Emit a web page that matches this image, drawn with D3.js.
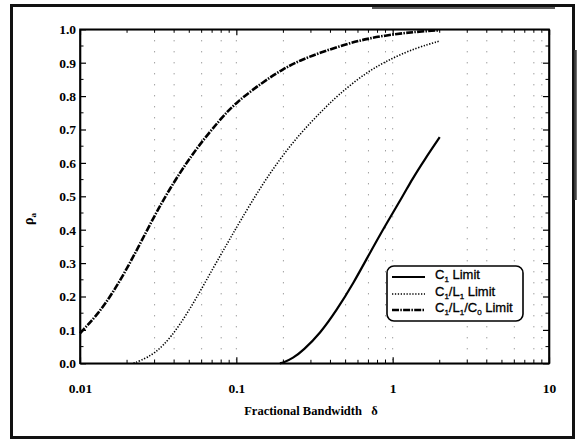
<!DOCTYPE html>
<html>
<head>
<meta charset="utf-8">
<script src="https://cdn.jsdelivr.net/npm/d3@7"></script>
<style>
  body { margin: 0; background: #fff; }
  svg { display: block; }
</style>
</head>
<body>
<svg id="chart" width="577" height="441"></svg>
<script>
// ---- data ----
const bandwidthC1L1C0 = [0.01, 0.0128, 0.0163, 0.0209, 0.0268, 0.0335, 0.0437, 0.0559, 0.0786, 0.1, 0.148, 0.2, 0.256, 0.343, 0.5, 0.686, 1.0, 1.43, 2.0];
const rhoC1L1C0       = [0.09, 0.143, 0.212, 0.3, 0.398, 0.484, 0.572, 0.645, 0.73, 0.782, 0.842, 0.882, 0.907, 0.93, 0.955, 0.972, 0.985, 0.993, 0.997];

const bandwidthC1L1 = [0.022, 0.027, 0.034, 0.0437, 0.056, 0.071, 0.0886, 0.1056, 0.1418, 0.19, 0.256, 0.343, 0.446, 0.68, 1.0, 1.43, 2.0];
const rhoC1L1       = [0.0, 0.016, 0.05, 0.115, 0.198, 0.285, 0.363, 0.425, 0.525, 0.612, 0.688, 0.75, 0.803, 0.872, 0.915, 0.945, 0.965];

const bandwidthC1 = [0.19, 0.2, 0.23, 0.268, 0.343, 0.438, 0.56, 0.71, 0.91, 1.17, 1.32, 1.6, 2.0];
const rhoC1       = [0.0, 0.002, 0.015, 0.039, 0.089, 0.159, 0.239, 0.328, 0.418, 0.503, 0.548, 0.61, 0.677];

const xMajorTicks = [0.01, 0.1, 1, 10];
const xTickLabels = ["0.01", "0.1", "1", "10"];
const yMajorTicks = [0, 0.1, 0.2, 0.3, 0.4, 0.5, 0.6, 0.7, 0.8, 0.9, 1.0];
const yTickLabels = ["0.0", "0.1", "0.2", "0.3", "0.4", "0.5", "0.6", "0.7", "0.8", "0.9", "1.0"];
const gridX = [0.03, 0.04, 0.06, 0.08, 0.1, 0.2, 0.5, 0.7, 0.9, 1, 3, 4, 6, 8, 9];

const legendLabels = [
  [["C", ""], ["1", "sub"], [" Limit", ""]],
  [["C", ""], ["1", "sub"], ["/L", ""], ["1", "sub"], [" Limit", ""]],
  [["C", ""], ["1", "sub"], ["/L", ""], ["1", "sub"], ["/C", ""], ["0", "sub"], [" Limit", ""]]
];

// ---- layout ----
const svg = d3.select("#chart");
const L = 80, R = 549, T = 29.3, B = 363.3;
const x = d3.scaleLog().domain([0.01, 10]).range([L, R]);
const y = d3.scaleLinear().domain([0, 1]).range([B, T]);

// outer frame
svg.append("rect").attr("x", 11.5).attr("y", 5.5).attr("width", 562).attr("height", 432)
  .attr("fill", "none").attr("stroke", "#111").attr("stroke-width", 3);
svg.append("line").attr("x1", 372).attr("x2", 555).attr("y1", 8).attr("y2", 8)
  .attr("stroke", "#222").attr("stroke-width", 1.5);
svg.append("line").attr("x1", 575.5).attr("x2", 575.5).attr("y1", 50).attr("y2", 200)
  .attr("stroke", "#444").attr("stroke-width", 2.5);

// grid
svg.append("g").selectAll("line").data(gridX).join("line")
  .attr("x1", d => x(d)).attr("x2", d => x(d)).attr("y1", T).attr("y2", B)
  .attr("stroke", "#777").attr("stroke-width", 1).attr("stroke-dasharray", "1,10");

// minor log ticks
const minorX = [];
[0.01, 0.1, 1].forEach(dec => { for (let k = 2; k <= 9; k++) minorX.push(dec * k); });
const minorY = d3.range(0.05, 1, 0.1);

const tickFont = "'Liberation Serif', 'Times New Roman', serif";

// bottom axis
const gB = svg.append("g").attr("transform", `translate(0,${B})`)
  .call(d3.axisBottom(x).tickValues(xMajorTicks).tickFormat((d, i) => xTickLabels[i])
    .tickSizeInner(-6).tickSizeOuter(0).tickPadding(20));
gB.selectAll("line.minor").data(minorX).join("line").attr("class", "minor")
  .attr("x1", d => x(d)).attr("x2", d => x(d)).attr("y1", 0).attr("y2", -3.5).attr("stroke", "#000");
// top axis
const gT = svg.append("g").attr("transform", `translate(0,${T})`)
  .call(d3.axisTop(x).tickValues(xMajorTicks).tickFormat("").tickSizeInner(-6).tickSizeOuter(0));
gT.selectAll("line.minor").data(minorX).join("line").attr("class", "minor")
  .attr("x1", d => x(d)).attr("x2", d => x(d)).attr("y1", 0).attr("y2", 3.5).attr("stroke", "#000");
// left axis
const gL = svg.append("g").attr("transform", `translate(${L},0)`)
  .call(d3.axisLeft(y).tickValues(yMajorTicks).tickFormat((d, i) => yTickLabels[i])
    .tickSizeInner(-6).tickSizeOuter(0).tickPadding(4));
gL.selectAll("line.minor").data(minorY).join("line").attr("class", "minor")
  .attr("y1", d => y(d)).attr("y2", d => y(d)).attr("x1", 0).attr("x2", 3.5).attr("stroke", "#000");
// right axis
const gR = svg.append("g").attr("transform", `translate(${R},0)`)
  .call(d3.axisRight(y).tickValues(yMajorTicks).tickFormat("").tickSizeInner(-6).tickSizeOuter(0));
gR.selectAll("line.minor").data(minorY).join("line").attr("class", "minor")
  .attr("y1", d => y(d)).attr("y2", d => y(d)).attr("x1", 0).attr("x2", -3.5).attr("stroke", "#000");

[gB, gT, gL, gR].forEach(g => {
  g.select(".domain").attr("stroke", "#000").attr("stroke-width", 1.6);
  g.selectAll(".tick line").attr("stroke", "#000").attr("stroke-width", 1.2);
  g.selectAll(".tick text").attr("font-family", tickFont).attr("font-weight", "bold")
    .attr("font-size", 13.5).attr("fill", "#000");
});

// plot box
svg.append("rect").attr("x", L).attr("y", T).attr("width", R - L).attr("height", B - T)
  .attr("fill", "none").attr("stroke", "#000").attr("stroke-width", 1.6);

// curves
const line = d3.line().x(d => x(d[0])).y(d => y(d[1])).curve(d3.curveBasis);
const series = [
  { b: bandwidthC1, r: rhoC1, dash: null, w: 2.2 },
  { b: bandwidthC1L1, r: rhoC1L1, dash: "1.3,1.6", w: 1.6 },
  { b: bandwidthC1L1C0, r: rhoC1L1C0, dash: "7,1.3,1.5,1.3", w: 2.6 }
];
series.forEach(s => {
  svg.append("path").datum(d3.zip(s.b, s.r)).attr("d", line)
    .attr("fill", "none").attr("stroke", "#000").attr("stroke-width", s.w)
    .attr("stroke-dasharray", s.dash);
});

// axis titles
svg.append("text").attr("x", 311).attr("y", 415).attr("text-anchor", "middle")
  .attr("font-family", tickFont).attr("font-weight", "bold").attr("font-size", 12.5)
  .attr("xml:space", "preserve").text("Fractional Bandwidth   δ");
const yt = svg.append("text").attr("transform", "translate(33,219) rotate(-90)")
  .attr("text-anchor", "middle").attr("font-family", tickFont).attr("font-weight", "bold")
  .attr("font-size", 14);
yt.append("tspan").text("ρ");
yt.append("tspan").attr("font-size", 9).attr("dy", 3).text("a");

// legend
const lg = svg.append("g");
lg.append("rect").attr("x", 387).attr("y", 266).attr("width", 136).attr("height", 55)
  .attr("rx", 7).attr("fill", "#fff").attr("stroke", "#000").attr("stroke-width", 1.6);
const legY = [277, 294, 310];
series.forEach((s, i) => {
  lg.append("line").attr("x1", 392).attr("x2", 425).attr("y1", legY[i]).attr("y2", legY[i])
    .attr("stroke", "#000").attr("stroke-width", s.w).attr("stroke-dasharray", s.dash);
  const t = lg.append("text").attr("x", 435).attr("y", legY[i] + 4.5)
    .attr("font-family", "'Liberation Sans', Arial, sans-serif").attr("font-size", 13)
    .attr("fill", "#000").attr("stroke", "#000").attr("stroke-width", 0.3)
    .attr("xml:space", "preserve");
  legendLabels[i].forEach(([txt, kind]) => {
    if (kind === "sub") t.append("tspan").attr("font-size", 8).attr("dy", 3).text(txt);
    else t.append("tspan").attr("dy", t.selectAll("tspan").size() ? -3 : 0).text(txt);
  });
});
</script>
</body>
</html>
